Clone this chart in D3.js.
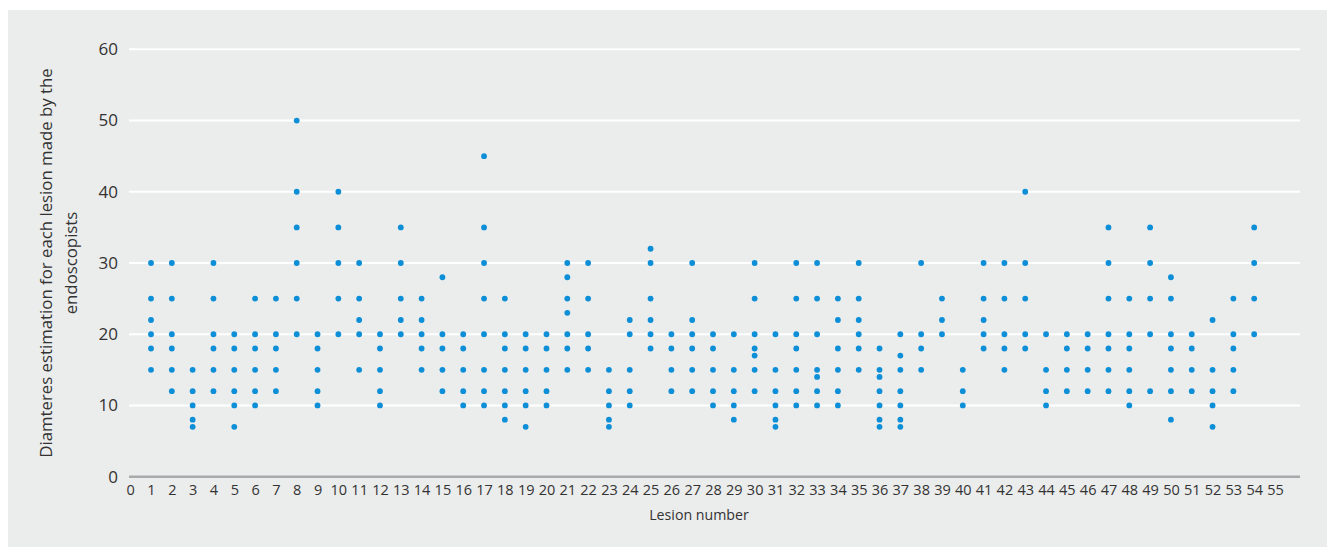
<!DOCTYPE html>
<html>
<head>
<meta charset="utf-8">
<script src="https://cdn.jsdelivr.net/npm/d3@7"></script>
<style>
html,body{margin:0;padding:0;background:#fff;}
svg{display:block;}
text{font-family:"Open Sans","Noto Sans",sans-serif;fill:#333;}
</style>
</head>
<body>
<svg id="chart" width="1327" height="547"></svg>
<script>
// Lesion numbers (categories)
const lesions = [1,2,3,4,5,6,7,8,9,10,11,12,13,14,15,16,17,18,19,20,21,22,23,24,25,26,27,28,29,30,31,32,33,34,35,36,37,38,39,40,41,42,43,44,45,46,47,48,49,50,51,52,53,54];
// Diameter estimates for each lesion (mm), one list per lesion
const estimates = [
  [30,25,22,20,18,15],
  [30,25,20,18,15,12],
  [15,12,10,8,7],
  [30,25,20,18,15,12],
  [20,18,15,12,10,7],
  [25,20,18,15,12,10],
  [25,20,18,15,12],
  [50,40,35,30,25,20],
  [20,18,15,12,10],
  [40,35,30,25,20],
  [30,25,22,20,15],
  [20,18,15,12,10],
  [35,30,25,22,20],
  [25,22,20,18,15],
  [28,20,18,15,12],
  [20,18,15,12,10],
  [45,35,30,25,20,15,12,10],
  [25,20,18,15,12,10,8],
  [20,18,15,12,10,7],
  [20,18,15,12,10],
  [30,28,25,23,20,18,15],
  [30,25,20,18,15],
  [15,12,10,8,7],
  [22,20,15,12,10],
  [32,30,25,22,20,18],
  [20,18,15,12],
  [30,22,20,18,15,12],
  [20,18,15,12,10],
  [20,15,12,10,8],
  [30,25,20,18,17,15,12],
  [20,15,12,10,8,7],
  [30,25,20,18,15,12,10],
  [30,25,20,15,14,12,10],
  [25,22,18,15,12,10],
  [30,25,22,20,18,15],
  [18,15,14,12,10,8,7],
  [20,17,15,12,10,8,7],
  [30,20,18,15],
  [25,22,20],
  [15,12,10],
  [30,25,22,20,18],
  [30,25,20,18,15],
  [40,30,25,20,18],
  [20,15,12,10],
  [20,18,15,12],
  [20,18,15,12],
  [35,30,25,20,18,15,12],
  [25,20,18,15,12,10],
  [35,30,25,20,12],
  [28,25,20,18,15,12,8],
  [20,18,15,12],
  [22,15,12,10,7],
  [25,20,18,15,12],
  [35,30,25,20]
];
const xTicks = [0,1,2,3,4,5,6,7,8,9,10,11,12,13,14,15,16,17,18,19,20,21,22,23,24,25,26,27,28,29,30,31,32,33,34,35,36,37,38,39,40,41,42,43,44,45,46,47,48,49,50,51,52,53,54,55];
const yTicks = [0,10,20,30,40,50,60];
const xTitle = "Lesion number";
const yTitleLines = ["Diamteres estimation for each lesion made by the", "endoscopists"];

const svg = d3.select("#chart");
const W = 1327, H = 547;

// background panel
svg.append("rect").attr("x", 8).attr("y", 10).attr("width", W - 8).attr("height", H - 10).attr("fill", "#ebecec");

const plotLeft = 129, plotRight = 1300;
const x = d3.scaleLinear().domain([0, 55]).range([130.2, 1275]);
const y = d3.scaleLinear().domain([0, 60]).range([476.7, 49.3]);

// gridlines
svg.append("g").selectAll("line").data(yTicks.filter(d => d > 0)).join("line")
  .attr("x1", plotLeft).attr("x2", plotRight)
  .attr("y1", d => y(d)).attr("y2", d => y(d))
  .attr("stroke", "#ffffff").attr("stroke-width", 2);

// x axis baseline
svg.append("line").attr("x1", plotLeft).attr("x2", plotRight)
  .attr("y1", y(0)).attr("y2", y(0))
  .attr("stroke", "#a9aaab").attr("stroke-width", 2.5);

// y axis tick labels
const yAxis = d3.axisLeft(y).tickValues(yTicks).tickSize(0).tickPadding(0).tickFormat(d3.format("d"));
const yg = svg.append("g").attr("transform", "translate(118,0)").call(yAxis);
yg.select(".domain").remove();
yg.selectAll("text").attr("font-size", 17).attr("fill", "#333").attr("font-family", "'Open Sans','Noto Sans',sans-serif");

// x axis tick labels
const xAxis = d3.axisBottom(x).tickValues(xTicks).tickSize(0).tickPadding(0).tickFormat(d3.format("d"));
const xg = svg.append("g").attr("transform", "translate(0,485)").call(xAxis);
xg.select(".domain").remove();
xg.selectAll("text").attr("font-size", 14.5).attr("fill", "#333").attr("font-family", "'Open Sans','Noto Sans',sans-serif");

// axis titles
svg.append("text").attr("x", 699).attr("y", 520).attr("text-anchor", "middle")
  .attr("font-size", 14.2).text(xTitle);

const yt = svg.append("text").attr("transform", "translate(52,263) rotate(-90)")
  .attr("text-anchor", "middle").attr("font-size", 16.8);
yTitleLines.forEach((t, i) => {
  yt.append("tspan").attr("x", 0).attr("dy", i === 0 ? 0 : 25).text(t);
});

// points
const points = [];
lesions.forEach((l, i) => estimates[i].forEach(v => points.push({l, v})));
svg.append("g").selectAll("circle").data(points).join("circle")
  .attr("cx", d => x(d.l)).attr("cy", d => y(d.v)).attr("r", 2.9)
  .attr("fill", "#0d8fd8");
</script>
</body>
</html>
